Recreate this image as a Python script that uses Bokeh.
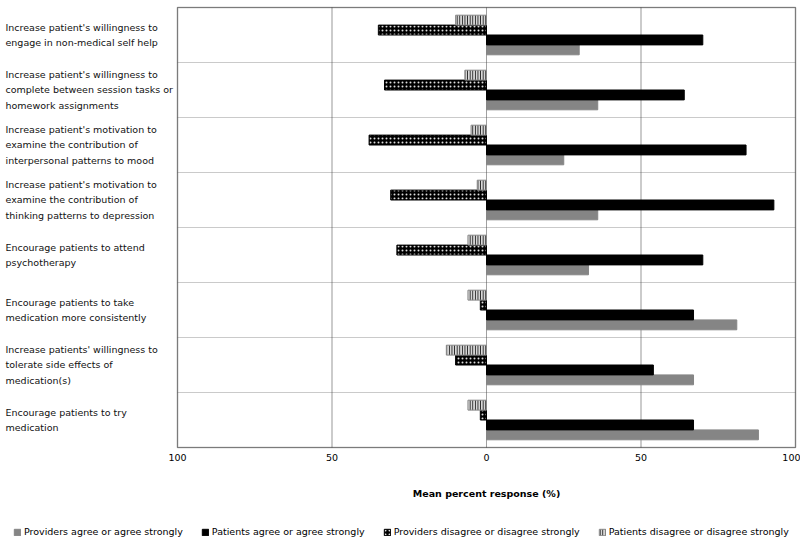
import numpy as np
from bokeh.plotting import figure
from bokeh.models import (ColumnDataSource, Range1d, FixedTicker, BoxAnnotation,
                          Legend, LegendItem, LinearAxis)
from bokeh.core.properties import value
from bokeh.embed import file_html
from bokeh.resources import INLINE

categories = [
    "Increase patient's willingness to\nengage in non-medical self help",
    "Increase patient's willingness to\ncomplete between session tasks or\nhomework assignments",
    "Increase patient's motivation to\nexamine the contribution of\ninterpersonal patterns to mood",
    "Increase patient's motivation to\nexamine the contribution of\nthinking patterns to depression",
    "Encourage patients to attend\npsychotherapy",
    "Encourage patients to take\nmedication more consistently",
    "Increase patients' willingness to\ntolerate side effects of\nmedication(s)",
    "Encourage patients to try\nmedication",
]
providers_agree = [30, 36, 25, 36, 33, 81, 67, 88]
patients_agree = [70, 64, 84, 93, 70, 67, 54, 67]
providers_disagree = [35, 33, 38, 31, 29, 2, 10, 2]
patients_disagree = [10, 7, 5, 3, 6, 6, 13, 6]
tick_values = [-100, -50, 0, 50, 100]
tick_labels = ["100", "50", "0", "50", "100"]
grid_values = [-100, -50, 0, 50, 100]
series_names = ["Providers agree or agree strongly",
                "Patients agree or agree strongly",
                "Providers disagree or disagree strongly",
                "Patients disagree or disagree strongly"]

n = len(categories)
ypos = np.arange(n)[::-1] + 0.5
BAR_H = 0.18
FONT = "DejaVu Sans"

src = ColumnDataSource(dict(
    y=ypos,
    cat=categories,
    pa=providers_agree,
    ta=patients_agree,
    pd=[-v for v in providers_disagree],
    td=[-v for v in patients_disagree],
    zero=[0] * n,
    y_pa=ypos - 0.27, y_ta=ypos - 0.09, y_pd=ypos + 0.09, y_td=ypos + 0.27,
))

# canvas geometry (pixels)
W, H = 800, 543
BOX_L, BOX_R = 177, 795     # value box left/right inside canvas
BOX_T, BOX_B = 7, 447       # value box top/bottom inside canvas
LABEL_PX = 5
kx = (BOX_R - BOX_L) / 200.0
ky = (BOX_B - BOX_T) / float(n)
x_start = -100 - BOX_L / kx
x_end = 100 + (W - BOX_R) / kx
y_top = n + BOX_T / ky
y_bot = -(H - BOX_B) / ky

p = figure(width=W, height=H, output_backend="svg", toolbar_location=None,
           x_range=Range1d(x_start, x_end), y_range=Range1d(y_bot, y_top),
           x_axis_location=None, y_axis_location=None,
           min_border=0, background_fill_color="white",
           border_fill_color="white")
p.outline_line_color = None
p.grid.visible = False

xa = LinearAxis(fixed_location=0, bounds=(-100, 100),
                ticker=FixedTicker(ticks=tick_values))
xa.major_label_overrides = {v: l for v, l in zip(tick_values, tick_labels)}
xa.axis_line_color = None
xa.major_tick_line_color = None
xa.minor_tick_line_color = None
xa.major_label_standoff = 0
xa.major_label_text_font = FONT
xa.major_label_text_font_size = "9.5px"
xa.major_label_text_color = "black"
xa.axis_label = "Mean percent response (%)"
xa.axis_label_text_font = FONT
xa.axis_label_text_font_size = "9.5px"
xa.axis_label_text_font_style = "bold"
xa.axis_label_text_color = "black"
xa.axis_label_standoff = 24
p.add_layout(xa, "below")

# row separators and column separators inside the value box
for i in range(n):
    p.add_layout(BoxAnnotation(left=-100, right=100, bottom=i, top=i + 1,
                               fill_alpha=0, line_color="#999999",
                               line_width=1.2, level="underlay"))
for a, b in zip(grid_values[:-1], grid_values[1:]):
    p.add_layout(BoxAnnotation(left=a, right=b, bottom=0, top=n,
                               fill_alpha=0, line_color="#444444",
                               line_width=1, level="underlay"))
p.add_layout(BoxAnnotation(left=-100, right=100, bottom=0, top=n,
                           fill_alpha=0, line_color="black", line_width=1.5))

r_pa = p.hbar(y="y_pa", left="zero", right="pa", height=BAR_H, source=src,
              fill_color="#858585", line_color="#858585")
r_ta = p.hbar(y="y_ta", left="zero", right="ta", height=BAR_H, source=src,
              fill_color="black", line_color="black")
r_pd = p.hbar(y="y_pd", left="pd", right="zero", height=BAR_H, source=src,
              fill_color="black", line_color="black",
              hatch_pattern="dot", hatch_color="#dddddd", hatch_scale=4,
              hatch_weight=1)
r_td = p.hbar(y="y_td", left="td", right="zero", height=BAR_H, source=src,
              fill_color="#d8d8d8", line_color="#888888",
              hatch_pattern="vertical_line", hatch_color="#222222",
              hatch_scale=2.6, hatch_weight=1.2)

p.text(x=x_start + LABEL_PX / kx, y="y", text="cat", source=src,
       text_font=value(FONT), text_font_size="9.5px", text_color="#111111",
       text_baseline="middle", text_align="left", text_line_height=1.4)

legend = Legend(items=[LegendItem(label=s, renderers=[r])
                       for s, r in zip(series_names, [r_pa, r_ta, r_pd, r_td])],
                orientation="horizontal", location=(13, 6),
                glyph_width=8, glyph_height=8, label_height=10,
                label_standoff=3, spacing=18, padding=0, margin=0,
                border_line_color=None, background_fill_alpha=0,
                label_text_font=FONT, label_text_font_size="9.5px",
                label_text_color="black")
p.add_layout(legend, "center")

open("out.html", "w").write(file_html(p, INLINE))
